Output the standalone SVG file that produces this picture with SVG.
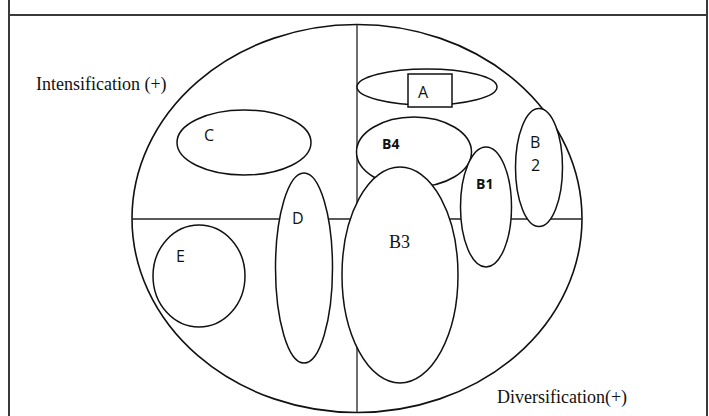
<svg xmlns="http://www.w3.org/2000/svg" width="709" height="416" viewBox="0 0 709 416">
<style>
.frame{stroke:#3a3a3a;stroke-width:2;fill:none}
.ax{stroke:#222;stroke-width:1.3;fill:none}
.el{stroke:#111;stroke-width:1.5;fill:#fff}
.big{stroke:#111;stroke-width:1.6;fill:none}
.sans{font-family:"Open Sans","Liberation Sans",sans-serif;font-size:16px;fill:#111}
.bold{font-weight:bold;font-size:14px}
.serif{font-family:"Liberation Serif","Times New Roman",serif;font-size:18px;fill:#111}
</style>
<rect width="709" height="416" fill="#fff"/>
<g id="frame">
<line class="frame" x1="9" y1="0" x2="9" y2="416"/>
<line class="frame" x1="707" y1="0" x2="707" y2="416"/>
<line class="frame" x1="9" y1="15" x2="707" y2="15"/>
</g>
<g id="axes">
<ellipse class="big" cx="357" cy="218.5" rx="225" ry="194"/>
<line class="ax" x1="357" y1="24.5" x2="357" y2="412.5"/>
<line class="ax" x1="132" y1="219" x2="582" y2="219"/>
<text class="serif" x="36" y="90">Intensification (+)</text>
<text class="serif" x="497" y="403">Diversification(+)</text>
</g>
<g id="C"><ellipse class="el" cx="244" cy="142.5" rx="67" ry="32.5"/><text class="sans" x="204" y="141">C</text></g>
<g id="E"><ellipse class="el" cx="199" cy="276" rx="46" ry="51"/><text class="sans" x="176" y="262">E</text></g>
<g id="D"><ellipse class="el" cx="304" cy="268" rx="28.5" ry="95"/><text class="sans" x="292" y="224">D</text></g>
<g id="A"><ellipse class="el" cx="427" cy="87" rx="70" ry="18"/><rect class="el" x="408" y="74" width="44" height="33"/><text class="sans" x="418" y="98">A</text></g>
<g id="B4"><ellipse class="el" cx="414" cy="152" rx="57.5" ry="35"/><text class="sans bold" x="382" y="149">B4</text></g>
<g id="B3"><ellipse class="el" cx="400" cy="275" rx="58" ry="108"/><text class="serif" x="389" y="248" font-size="20">B3</text></g>
<g id="B1"><ellipse class="el" cx="486" cy="207" rx="25.5" ry="60"/><text class="sans bold" x="476" y="189">B1</text></g>
<g id="B2"><ellipse class="el" cx="539" cy="167.5" rx="23.5" ry="59"/><text class="sans" x="530" y="148" font-size="14">B</text><text class="sans" x="531" y="171" font-size="14">2</text></g>
</svg>
